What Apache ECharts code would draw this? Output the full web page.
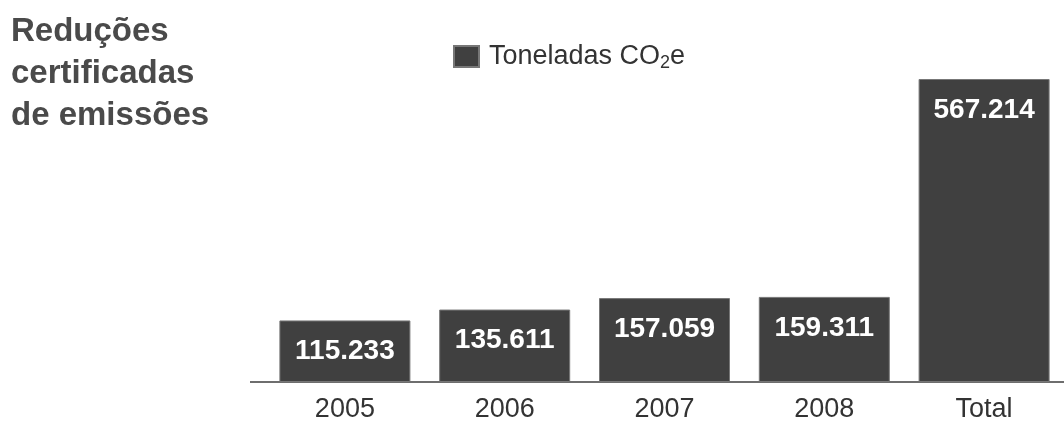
<!DOCTYPE html>
<html><head><meta charset="utf-8">
<script src="https://cdn.jsdelivr.net/npm/echarts@6/dist/echarts.min.js"></script>
<style>html,body{margin:0;padding:0;background:#fff;overflow:hidden}#c{width:1064px;height:423px}</style>
</head><body><div id="c"></div>
<script>
const categories = ['2005', '2006', '2007', '2008', 'Total'];
const values = [115.233, 135.611, 157.059, 159.311, 567.214];
const seriesName = 'Toneladas CO2e';
const titleLines = ['Reduções', 'certificadas', 'de emissões'];

const FF = 'Liberation Sans, Arial, sans-serif';
const chart = echarts.init(document.getElementById('c'), null, {renderer: 'canvas'});
chart.setOption({
  animation: false,
  backgroundColor: '#fff',
  textStyle: {fontFamily: FF},
  title: {
    text: titleLines.join('\n'),
    left: 6, top: 6,
    textStyle: {fontSize: 33, fontWeight: 'bold', color: '#4a4a4a', lineHeight: 42, fontFamily: FF}
  },
  legend: {
    left: 448, top: 38,
    itemWidth: 25, itemHeight: 21, itemGap: 10,
    data: [{name: seriesName, icon: 'rect'}],
    formatter: () => '{f|Toneladas CO}{s|2}{a|e}',
    textStyle: {
      rich: {
        f: {fontSize: 27, color: '#333', fontFamily: FF, padding: [0, 0, 0, 5]},
        a: {fontSize: 27, color: '#333', fontFamily: FF},
        s: {fontSize: 18, color: '#333', verticalAlign: 'bottom', padding: [14, 0, 0, 0], fontFamily: FF}
      }
    }
  },
  grid: {left: 265, right: 0, top: 79, bottom: 38, containLabel: false},
  xAxis: {
    type: 'category', data: categories,
    axisLine: {show: true, lineStyle: {color: '#6e6e6e', width: 2}},
    axisTick: {show: false},
    axisLabel: {fontSize: 27, color: '#333', margin: 14, fontFamily: FF}
  },
  yAxis: {type: 'value', min: 0, max: 'dataMax', show: false, splitLine: {show: false}},
  series: [{
    name: seriesName, type: 'bar', data: values, barWidth: 131,
    itemStyle: {color: '#404040', borderColor: '#777', borderWidth: 1},
    label: {
      show: true, position: 'insideTop', distance: 17,
      formatter: p => p.value.toFixed(3),
      fontSize: 28, fontWeight: 'bold', color: '#fff',
      fontFamily: FF
    }
  }]
});
const base = chart.convertToPixel({gridIndex: 0}, [0, 0]);
chart.setOption({
  graphic: [{
    type: 'line', shape: {x1: 250, y1: base[1], x2: 266, y2: base[1]},
    style: {stroke: '#6e6e6e', lineWidth: 2}, z: 10
  }]
});
</script></body></html>
